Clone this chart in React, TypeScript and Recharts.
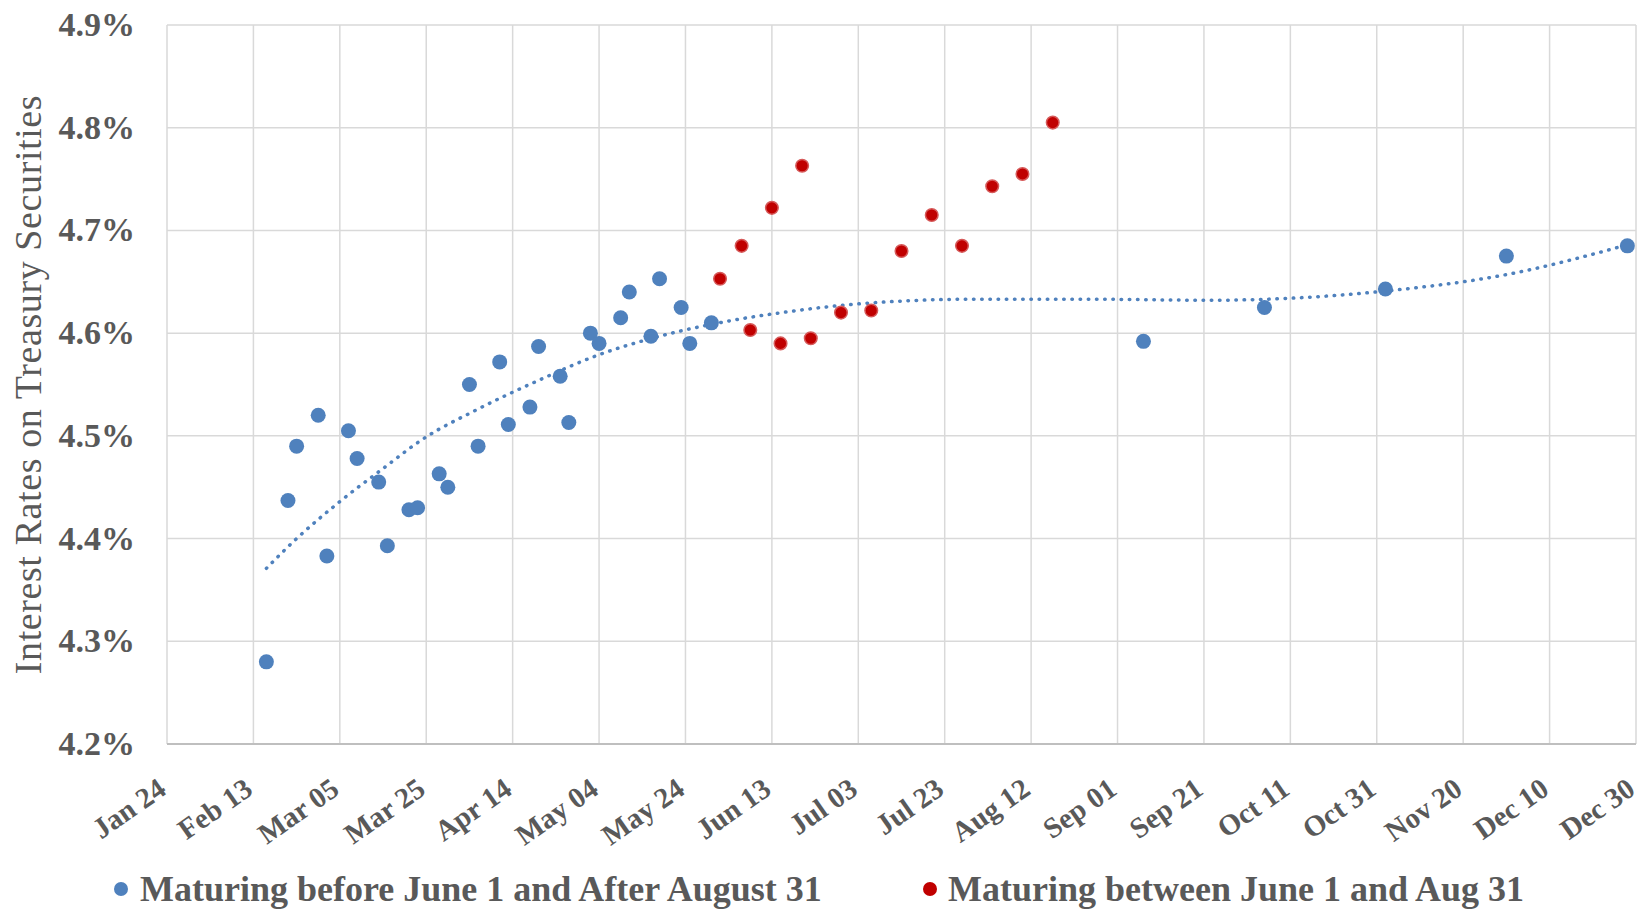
import React from "react";
import { CartesianGrid, Scatter, ScatterChart, XAxis, YAxis } from "recharts";

// day-of-year (2023) and rates in percent
const blueDays = [47, 52, 54, 59, 61, 66, 68, 73, 75, 80, 82, 87, 89, 94, 96, 101, 103, 108, 110, 115, 117, 122, 124, 129, 131, 136, 138, 143, 145, 150, 250, 278, 306, 334, 362];
const blueRates = [4.28, 4.437, 4.49, 4.52, 4.383, 4.505, 4.478, 4.455, 4.393, 4.428, 4.43, 4.463, 4.45, 4.55, 4.49, 4.572, 4.511, 4.528, 4.587, 4.558, 4.513, 4.6, 4.59, 4.615, 4.64, 4.597, 4.653, 4.625, 4.59, 4.61, 4.592, 4.625, 4.643, 4.675, 4.685];

const redDays = [152, 157, 159, 164, 166, 171, 173, 180, 187, 194, 201, 208, 215, 222, 229];
const redRates = [4.653, 4.685, 4.603, 4.722, 4.59, 4.763, 4.595, 4.62, 4.622, 4.68, 4.715, 4.685, 4.743, 4.755, 4.805];

// trendline
const trendDays = [47, 54, 64, 73, 84, 95, 110, 124, 138, 153, 168, 180, 193, 210, 239, 265, 284, 306, 334, 362];
const trendRates = [4.371, 4.4, 4.436, 4.465, 4.499, 4.524, 4.554, 4.579, 4.597, 4.611, 4.621, 4.627, 4.631, 4.633, 4.633, 4.632, 4.634, 4.641, 4.657, 4.686];

const xTicks = [24, 44, 64, 84, 104, 124, 144, 164, 184, 204, 224, 244, 264, 284, 304, 324, 344, 364];
const yTicks = [4.2, 4.3, 4.4, 4.5, 4.6, 4.7, 4.8, 4.9];

const blueData = blueDays.map((x, i) => ({ x, y: blueRates[i] }));
const redData = redDays.map((x, i) => ({ x, y: redRates[i] }));
const trendData = trendDays.map((x, i) => ({ x, y: trendRates[i] }));

const MONTHS = ["Jan", "Feb", "Mar", "Apr", "May", "Jun", "Jul", "Aug", "Sep", "Oct", "Nov", "Dec"];
const fmtDay = (d: number) => {
  const dt = new Date(2023, 0, d);
  return `${MONTHS[dt.getMonth()]} ${String(dt.getDate()).padStart(2, "0")}`;
};

const BLUE = "#4F81BD";
const GRAY = "#595959";
const FONT = "'Liberation Serif', 'Times New Roman', serif";

const XTick = ({ x, y, payload }: any) => (
  <g transform={`translate(${x + 1},${y + 49})`}>
    <text textAnchor="end" transform="rotate(-35)" fill={GRAY} fontFamily={FONT} fontSize={29} fontWeight="bold">
      {fmtDay(payload.value)}
    </text>
  </g>
);

const YTick = ({ x, y, payload }: any) => (
  <text x={x - 32} y={y} dy={11} textAnchor="end" fill={GRAY} fontFamily={FONT} fontSize={34} fontWeight="bold">
    {payload.value.toFixed(1)}%
  </text>
);

const BlueDot = (p: any) => <circle cx={p.cx} cy={p.cy} r={7.5} fill={BLUE} />;
const RedDot = (p: any) => <circle cx={p.cx} cy={p.cy} r={6.3} fill="#C00000" stroke="#D65A5A" strokeWidth={1.5} />;
const NoDot = () => <g />;

const legendStyle: React.CSSProperties = {
  position: "absolute",
  top: 868,
  display: "flex",
  alignItems: "center",
  fontFamily: FONT,
  fontSize: 36,
  fontWeight: "bold",
  color: GRAY,
  whiteSpace: "nowrap",
};

export default function App() {
  return (
    <div style={{ position: "absolute", left: 0, top: 0, width: 1646, height: 910, background: "#fff", overflow: "hidden" }}>
      <ScatterChart width={1646} height={910} margin={{ top: 25, right: 10, left: 0, bottom: 0 }}>
        <CartesianGrid stroke="#D9D9D9" strokeWidth={1.5} />
        <XAxis
          dataKey="x"
          type="number"
          domain={[24, 364]}
          ticks={xTicks}
          interval={0}
          height={166}
          tickLine={false}
          tickSize={0}
          tickMargin={0}
          axisLine={{ stroke: "#BFBFBF", strokeWidth: 2 }}
          tick={<XTick />}
        />
        <YAxis
          dataKey="y"
          type="number"
          domain={[4.2, 4.9]}
          ticks={yTicks}
          interval={0}
          width={167}
          tickLine={false}
          tickSize={0}
          tickMargin={0}
          axisLine={false}
          tick={<YTick />}
          label={{
            value: "Interest Rates on Treasury Securities",
            angle: -90,
            position: "insideLeft",
            dx: 23,
            dy: 0,
            style: { textAnchor: "middle", fill: GRAY, fontFamily: FONT, fontSize: 38, letterSpacing: 0.6 },
          }}
        />
        <Scatter
          data={trendData}
          line={{ stroke: BLUE, strokeWidth: 3.5, strokeDasharray: "0.5 7.7", strokeLinecap: "round" }}
          lineJointType="monotoneX"
          shape={NoDot}
          isAnimationActive={false}
        />
        <Scatter data={blueData} shape={BlueDot} isAnimationActive={false} />
        <Scatter data={redData} shape={RedDot} isAnimationActive={false} />
      </ScatterChart>
      <div style={{ ...legendStyle, left: 114 }}>
        <span style={{ display: "inline-block", width: 14, height: 14, borderRadius: 7, background: BLUE, marginRight: 12 }} />
        Maturing before June 1 and After August 31
      </div>
      <div style={{ ...legendStyle, left: 923 }}>
        <span style={{ display: "inline-block", width: 14, height: 14, borderRadius: 7, background: "#C00000", marginRight: 11 }} />
        Maturing between June 1 and Aug 31
      </div>
    </div>
  );
}
